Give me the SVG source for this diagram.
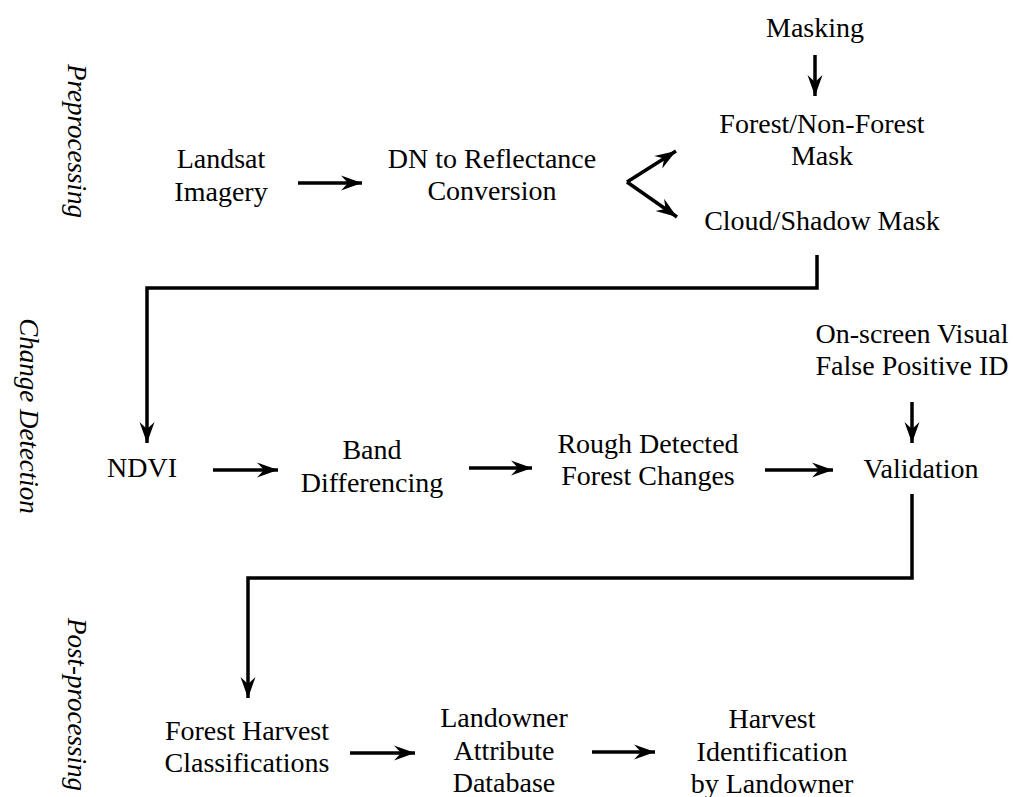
<svg xmlns="http://www.w3.org/2000/svg" width="1013" height="797" viewBox="0 0 1013 797">
<defs>
<marker id="ah" markerUnits="userSpaceOnUse" markerWidth="24" markerHeight="16" viewBox="-22 -8 24 16" refX="0" refY="0" orient="auto" overflow="visible">
<path d="M0,0 L-21,-7.5 L-14,0 L-21,7.5 Z" fill="#000"/>
</marker>
</defs>
<rect width="1013" height="797" fill="#fff"/>
<g font-family="Times New Roman, Liberation Serif, serif" font-size="28px" fill="#000" text-anchor="middle">
<g id="stage-labels" font-style="italic" font-size="27px">
<text font-family="Times New Roman" transform="translate(68,141) rotate(90)">Preprocessing</text>
<text font-family="Times New Roman" transform="translate(20,416) rotate(90)">Change Detection</text>
<text font-family="Times New Roman" transform="translate(68,618) rotate(90)" text-anchor="start">Post-processing</text>
</g>
<g id="landsat"><text font-family="Times New Roman" x="221" y="168">Landsat</text><text font-family="Times New Roman" x="221" y="201">Imagery</text></g>
<g id="dn"><text font-family="Times New Roman" x="492" y="168">DN to Reflectance</text><text font-family="Times New Roman" x="492" y="200">Conversion</text></g>
<g id="masking"><text font-family="Times New Roman" x="815" y="37">Masking</text></g>
<g id="forestmask"><text font-family="Times New Roman" x="822" y="133">Forest/Non-Forest</text><text font-family="Times New Roman" x="822" y="165">Mask</text></g>
<g id="cloudmask"><text font-family="Times New Roman" x="822" y="230">Cloud/Shadow Mask</text></g>
<g id="ndvi"><text font-family="Times New Roman" x="142" y="477">NDVI</text></g>
<g id="band"><text font-family="Times New Roman" x="372" y="459">Band</text><text font-family="Times New Roman" x="372" y="492">Differencing</text></g>
<g id="rough"><text font-family="Times New Roman" x="648" y="453">Rough Detected</text><text font-family="Times New Roman" x="648" y="485">Forest Changes</text></g>
<g id="onscreen"><text font-family="Times New Roman" x="912" y="343">On-screen Visual</text><text font-family="Times New Roman" x="912" y="375">False Positive ID</text></g>
<g id="validation"><text font-family="Times New Roman" x="921" y="478">Validation</text></g>
<g id="harvestclass"><text font-family="Times New Roman" x="247" y="740">Forest Harvest</text><text font-family="Times New Roman" x="247" y="772">Classifications</text></g>
<g id="landowner"><text font-family="Times New Roman" x="504" y="727">Landowner</text><text font-family="Times New Roman" x="504" y="760">Attribute</text><text font-family="Times New Roman" x="504" y="792">Database</text></g>
<g id="harvestid"><text font-family="Times New Roman" x="772" y="728">Harvest</text><text font-family="Times New Roman" x="772" y="761">Identification</text><text font-family="Times New Roman" x="772" y="793">by Landowner</text></g>
</g>
<g id="connectors" fill="none" stroke="#000" stroke-width="3.5" marker-end="url(#ah)">
<path d="M298,183 H362"/>
<path d="M627,182 L676,151"/>
<path d="M627,182 L677,217"/>
<path d="M815,55 V96"/>
<path d="M817,255 V288 H147 V443"/>
<path d="M213,470 H278"/>
<path d="M469,468 H532"/>
<path d="M765,470 H833"/>
<path d="M912,402 V443"/>
<path d="M912,494 V578 H248 V698"/>
<path d="M350,753 H415"/>
<path d="M592,752 H655"/>
</g>
</svg>
